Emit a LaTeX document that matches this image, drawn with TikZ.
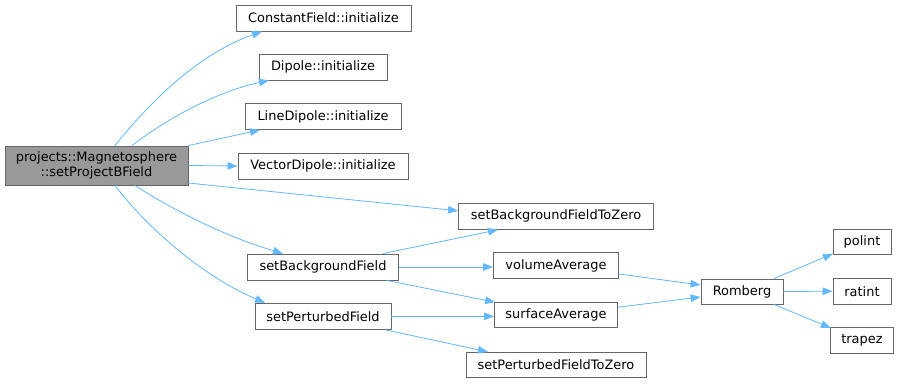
\documentclass[tikz,border=0pt]{standalone}
\usepackage{fontspec}
\setmainfont{DejaVu Sans}
\usetikzlibrary{arrows.meta}
\definecolor{edgec}{HTML}{63B8FF}
\definecolor{bord}{HTML}{666666}
\definecolor{mainfill}{HTML}{999999}
\begin{document}
\begin{tikzpicture}[x=1bp,y=-1bp,
  box/.style={draw=bord,line width=0.9bp,fill=white,inner sep=0pt,minimum height=26bp,font=\fontsize{13}{15}\selectfont,text=black},
  mainbox/.style={box,fill=mainfill,minimum height=39bp,align=center},
  edge/.style={draw=edgec,line width=0.8bp,-{Triangle[length=10bp,width=7.5bp]}}]
\useasboundingbox (0,0) rectangle (899,383);
\fill[white] (0,0) rectangle (899,383);
% nodes
\node[mainbox,minimum width=183bp] (main) at (96.5,165.5) {projects::Magnetosphere\\::setProjectBField};
\node[box,minimum width=175bp] (CF) at (323.5,18) {ConstantField::initialize};
\node[box,minimum width=128bp] (Dip) at (323,67) {Dipole::initialize};
\node[box,minimum width=156bp] (LD) at (323,116.5) {LineDipole::initialize};
\node[box,minimum width=170bp] (VD) at (323,166) {VectorDipole::initialize};
\node[box,minimum width=195bp] (sBFTZ) at (556,216.3) {setBackgroundFieldToZero};
\node[box,minimum width=151bp] (sBF) at (323,267) {setBackgroundField};
\node[box,minimum width=125bp] (vA) at (556,265.5) {volumeAverage};
\node[box,minimum width=136bp] (sPF) at (323,316.3) {setPerturbedField};
\node[box,minimum width=123bp,minimum height=25bp] (sA) at (556,315.2) {surfaceAverage};
\node[box,minimum width=180bp,minimum height=25bp] (sPFTZ) at (556,364.8) {setPerturbedFieldToZero};
\node[box,minimum width=82bp,minimum height=25bp] (Rom) at (742,291.5) {Romberg};
\node[box,minimum width=58bp,minimum height=25bp] (pol) at (862,241.7) {polint};
\node[box,minimum width=58bp] (rat) at (862,291.2) {ratint};
\node[box,minimum width=63bp] (trap) at (862,340.5) {trapez};
% edges
\draw[edge] ([xshift=18.5bp]main.north) .. controls (145,108) and (195,55) .. ([xshift=-61.5bp]CF.south);
\draw[edge] ([xshift=35.5bp]main.north) .. controls (165,120) and (215,92) .. ([xshift=-54bp]Dip.south);
\draw[edge] (main.north east) -- ([xshift=-63bp]LD.south);
\draw[edge] (main.east) -- (VD.west);
\draw[edge] ([yshift=-17.5bp]main.east) -- ([yshift=5.5bp]sBFTZ.west);
\draw[edge] ([xshift=38.5bp]main.south) .. controls (165,205) and (220,235) .. ([xshift=-40bp]sBF.north);
\draw[edge] ([xshift=18.5bp]main.south) .. controls (145,225) and (200,275) .. ([xshift=-58bp]sPF.north);
\draw[edge] ([xshift=60bp]sBF.north) -- ([xshift=-58bp]sBFTZ.south);
\draw[edge] (sBF.east) -- (vA.west |- sBF.east);
\draw[edge] ([xshift=64bp]sBF.south) -- ([xshift=1bp]sA.north west);
\draw[edge] (sPF.east) -- (sA.west |- sPF.east);
\draw[edge] ([xshift=62bp]sPF.south) -- ([xshift=-68bp]sPFTZ.north);
\draw[edge] ([yshift=-8.5bp]vA.east) -- ([yshift=6.5bp]Rom.west);
\draw[edge] ([yshift=8bp]sA.east) -- ([yshift=-5.5bp]Rom.west);
\draw[edge] ([xshift=32bp]Rom.north) -- ([xshift=-29bp,yshift=1bp]pol.south);
\draw[edge] (Rom.east) -- (rat.west);
\draw[edge] ([xshift=32bp]Rom.south) -- ([xshift=-31bp,yshift=-1bp]trap.north);
\end{tikzpicture}
\end{document}
